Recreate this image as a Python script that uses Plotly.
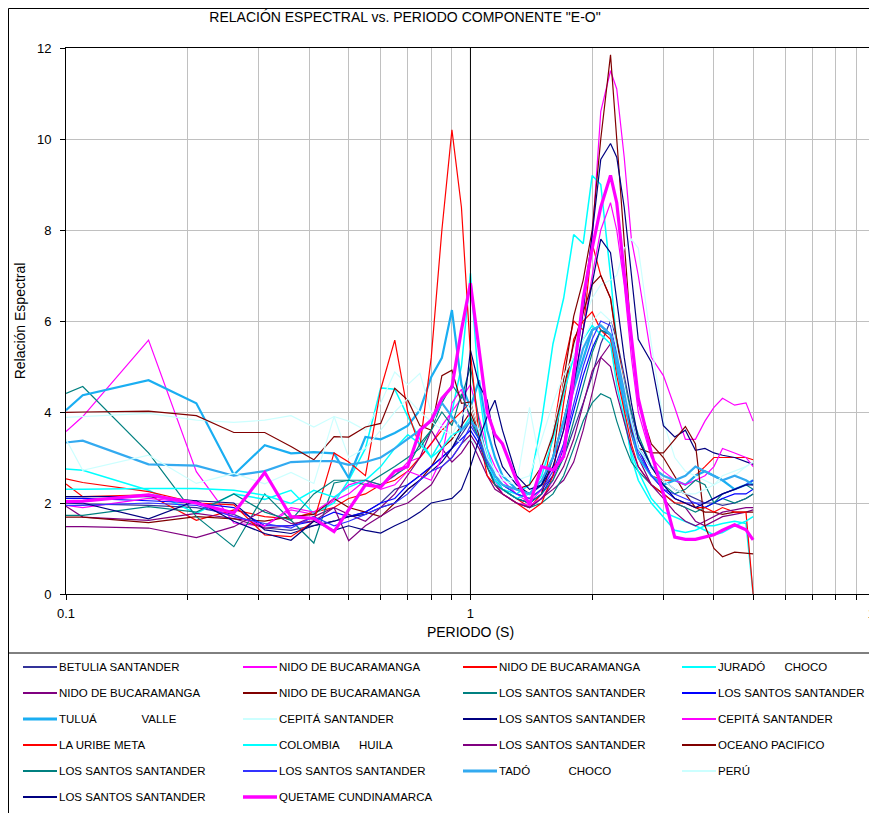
import plotly.graph_objects as go

# ---------------- DATA ----------------
periods = [0.1, 0.11, 0.16, 0.21, 0.26, 0.31, 0.36, 0.41, 0.46, 0.5,
           0.55, 0.6, 0.65, 0.7, 0.75, 0.8, 0.85, 0.9, 0.95, 1.0,
           1.05, 1.1, 1.15, 1.2, 1.3, 1.4, 1.5, 1.6, 1.7, 1.8,
           1.9, 2.0, 2.1, 2.22, 2.3, 2.4, 2.5, 2.6, 2.8, 3.0,
           3.2, 3.4, 3.6, 3.8, 4.0, 4.2, 4.5, 4.8, 5.0]

betulia_santander = [2.0, 1.98, 1.95, 1.9, 1.75, 1.45, 1.4, 1.5, 1.6, 1.7,
                     1.8, 2.0, 2.3, 2.4, 2.6, 2.8, 3.0, 3.2, 3.5, 3.8,
                     3.4, 2.9, 2.6, 2.4, 2.2, 2.1, 2.3, 2.6, 3.0, 3.6,
                     4.2, 4.8, 5.5, 6.0, 5.6, 4.8, 4.0, 3.4, 2.8, 2.5,
                     2.3, 2.2, 2.1, 2.0, 2.0, 1.95, 2.0, 2.1, 2.2]
nido_bucaramanga_1 = [3.57, 3.9, 5.58, 2.69, 1.56, 1.49, 1.85, 1.75, 2.05, 2.2,
                      2.5, 2.4, 2.6, 2.9, 3.0, 3.3, 3.7, 4.0, 4.3, 4.6,
                      3.9, 3.2, 2.8, 2.5, 2.2, 2.0, 2.3, 2.8, 3.6, 5.0,
                      6.5, 7.8, 10.6, 11.5, 11.1, 9.6, 7.8, 7.0, 5.2, 4.8,
                      4.1, 3.4, 3.4, 3.8, 4.1, 4.3, 4.15, 4.2, 3.8]
nido_bucaramanga_2 = [2.42, 2.14, 2.18, 1.62, 1.85, 1.7, 1.65, 1.8, 1.9, 2.1,
                      2.2, 2.4, 2.5, 2.7, 3.0, 3.3, 3.6, 3.8, 4.0, 4.2,
                      3.6, 2.9, 2.5, 2.3, 2.1, 1.9, 2.2, 3.5, 5.0, 6.0,
                      5.8, 7.7, 7.0, 6.5, 5.5, 4.6, 3.8, 3.2, 2.6, 2.5,
                      2.5, 2.4, 2.6, 2.8, 3.0, 3.0, 3.0, 3.0, 2.95]
jurado_choco = [2.75, 2.72, 2.28, 1.77, 2.2, 2.08, 2.28, 1.77, 2.0, 2.5,
                3.2, 4.53, 4.5, 3.9, 3.4, 3.0, 3.4, 4.0, 5.0, 7.05,
                4.5, 3.2, 2.6, 2.3, 2.2, 2.4, 3.8, 5.5, 6.5, 7.9,
                7.7, 9.2, 9.0, 7.0, 5.5, 4.0, 3.0, 2.5, 2.0, 1.7,
                1.4, 1.35, 1.4, 1.5, 1.5, 1.55, 1.6, 1.55, 0.0]
nido_bucaramanga_3 = [1.93, 1.69, 1.62, 1.77, 1.66, 1.45, 1.5, 1.7, 1.9, 1.75,
                      1.6, 1.9, 2.2, 2.6, 3.0, 3.6, 3.2, 2.9, 3.1, 3.4,
                      3.0, 2.6, 2.3, 2.2, 2.0, 1.9, 2.1, 2.3, 2.5, 2.9,
                      3.6, 4.4, 5.2, 5.5, 5.0, 4.2, 3.5, 3.0, 2.4, 2.2,
                      2.0, 1.9, 1.6, 1.5, 1.6, 1.7, 1.75, 1.8, 1.85]
nido_bucaramanga_4 = [1.69, 1.69, 1.57, 1.7, 1.65, 1.6, 1.7, 1.75, 2.1, 1.9,
                      1.8, 1.7, 2.0, 2.3, 2.5, 2.8, 3.2, 3.4, 3.7, 4.0,
                      3.5, 2.8, 2.5, 2.3, 2.1, 2.0, 2.2, 3.0, 4.7, 6.1,
                      6.9, 8.0, 10.0, 11.85, 10.0, 7.8, 5.6, 4.2, 3.3, 3.0,
                      2.6, 2.2, 1.9, 1.8, 1.8, 1.75, 1.8, 1.8, 1.8]
los_santos_1 = [4.41, 4.56, 3.1, 1.7, 1.04, 2.2, 1.62, 1.12, 2.44, 2.5,
                2.4, 2.6, 2.8, 3.0, 3.2, 3.6, 4.2, 4.6, 4.3, 5.0,
                3.8, 2.9, 2.4, 2.2, 2.0, 1.9, 2.0, 2.2, 2.6, 3.2,
                3.8, 4.2, 4.4, 4.3, 3.8, 3.3, 2.9, 2.7, 2.4, 2.2,
                2.0, 1.9, 1.8, 1.9, 2.0, 2.1, 2.0, 2.1, 2.2]
los_santos_2 = [2.1, 2.1, 2.05, 2.0, 1.9, 1.5, 1.5, 1.6, 1.8, 1.7,
                1.8, 2.0, 2.1, 2.4, 2.6, 2.8, 3.0, 3.2, 3.4, 3.6,
                3.3, 2.8, 2.5, 2.3, 2.1, 2.0, 2.2, 2.6, 3.2, 4.0,
                4.8, 5.4, 5.8, 5.7, 5.2, 4.5, 3.8, 3.2, 2.6, 2.3,
                2.1, 2.0, 2.0, 1.9, 2.0, 2.1, 2.2, 2.2, 2.3]
tulua_valle = [4.04, 4.37, 4.70, 4.19, 2.62, 3.27, 3.09, 3.12, 3.09, 2.55,
               3.45, 3.4, 3.54, 3.7, 4.04, 4.77, 5.19, 6.24, 4.6, 4.1,
               4.7, 3.6, 3.0, 2.6, 2.3, 2.2, 2.4, 3.0, 3.8, 4.5,
               5.2, 5.8, 5.9, 5.7, 5.0, 4.2, 3.6, 3.0, 2.6, 2.4,
               2.5, 2.4, 2.6, 2.7, 2.6, 2.5, 2.3, 2.4, 2.5]
cepita_santander_1 = [3.88, 3.9, 3.97, 3.82, 3.77, 3.82, 3.92, 3.67, 3.9, 3.8,
                      3.6, 4.2, 4.88, 4.6, 4.85, 4.0, 3.7, 3.5, 3.3, 3.4,
                      3.2, 2.8, 2.6, 2.5, 2.4, 4.1, 2.7, 3.6, 4.6, 5.4,
                      6.0, 6.5, 6.8, 6.9, 7.0, 7.6, 7.8, 7.6, 5.5, 3.8,
                      3.0, 2.7, 2.6, 2.5, 2.4, 2.5, 2.6, 2.8, 2.9]
los_santos_3 = [2.14, 2.14, 2.14, 2.05, 2.0, 1.41, 1.33, 1.5, 1.6, 1.7,
                1.75, 1.9, 2.0, 2.3, 2.5, 2.7, 2.9, 3.2, 3.6, 5.36,
                4.6, 4.26, 3.3, 2.8, 2.4, 2.2, 2.4, 3.0, 3.8, 4.8,
                6.2, 7.9, 9.55, 9.9, 9.6, 8.5, 7.0, 5.6, 5.1, 3.7,
                3.45, 3.6, 3.16, 3.2, 3.1, 3.05, 3.0, 2.9, 2.85]
cepita_santander_2 = [1.95, 1.9, 2.1, 2.0, 1.7, 1.5, 1.9, 1.8, 2.1, 2.4,
                      2.5, 2.3, 2.4, 2.7, 2.6, 2.5, 3.0, 4.2, 4.5, 3.8,
                      3.5, 3.0, 2.5, 2.2, 2.0, 1.95, 2.1, 2.5, 3.3, 4.5,
                      5.8, 7.0, 8.0, 8.6, 8.0, 6.8, 5.2, 4.0, 3.0, 2.7,
                      2.5, 2.4, 2.5, 2.6, 2.8, 3.2, 3.1, 3.0, 2.8]
la_uribe_meta = [2.53, 2.45, 2.25, 2.0, 1.96, 1.3, 1.26, 1.6, 3.1, 2.9,
                 2.6, 4.5, 5.58, 4.0, 3.24, 5.2, 8.0, 10.2, 8.5, 5.3,
                 3.5, 2.6, 2.4, 2.2, 2.0, 1.8, 2.0, 2.6, 4.2, 5.6,
                 6.0, 6.2, 5.8, 5.6, 4.8, 4.0, 3.3, 2.8, 2.4, 2.2,
                 2.0, 2.0, 1.9, 1.9, 1.8, 1.9, 1.8, 1.8, 0.0]
colombia_huila = [2.3, 2.3, 2.32, 2.32, 2.28, 2.17, 1.99, 2.28, 2.13, 2.35,
                  2.5, 2.8, 3.2, 3.5, 3.3, 3.0, 3.2, 3.5, 3.6, 3.9,
                  3.4, 2.9, 2.5, 2.3, 2.1, 2.2, 2.6, 3.4, 4.4, 5.2,
                  5.6, 5.9, 5.7, 5.5, 4.6, 3.8, 3.1, 2.7, 2.1, 1.8,
                  1.7, 1.6, 1.5, 1.4, 1.3, 1.35, 1.5, 1.6, 1.7]
los_santos_4 = [1.48, 1.48, 1.45, 1.24, 1.48, 1.85, 1.55, 1.6, 1.9, 1.17,
                1.5, 1.7, 1.9, 2.0, 2.2, 2.4, 2.8, 3.0, 3.3, 3.5,
                3.2, 2.8, 2.4, 2.2, 2.0, 1.9, 2.1, 2.4, 2.8, 3.4,
                4.2, 4.9, 5.2, 5.0, 4.4, 3.8, 3.2, 2.8, 2.4, 2.1,
                1.8, 1.6, 1.5, 1.6, 1.7, 1.8, 1.85, 1.9, 1.9]
oceano_pacifico = [3.99, 4.0, 4.02, 3.92, 3.55, 3.55, 3.24, 2.95, 3.46, 3.45,
                   3.67, 3.75, 4.52, 4.26, 3.7, 3.6, 4.8, 4.92, 4.19, 4.22,
                   3.5, 3.0, 2.6, 2.4, 2.3, 2.4, 2.8, 3.5, 4.5, 5.5,
                   6.2, 6.8, 7.0, 6.5, 5.6, 4.5, 3.6, 3.2, 3.1, 3.1,
                   3.4, 3.68, 3.3, 1.5, 1.0, 0.82, 0.92, 0.9, 0.88]
los_santos_5 = [1.73, 1.73, 1.92, 1.8, 2.2, 1.8, 1.62, 2.2, 2.5, 2.5,
                2.5, 2.4, 2.6, 2.8, 3.3, 3.6, 4.0, 3.7, 4.4, 3.9,
                3.4, 2.8, 2.4, 2.3, 2.1, 2.0, 2.2, 2.5, 3.0, 3.8,
                4.6, 5.3, 5.8, 5.7, 5.3, 4.6, 4.0, 3.5, 2.8, 2.4,
                2.2, 2.3, 2.5, 2.4, 2.0, 2.2, 2.3, 2.4, 2.3]
los_santos_6 = [1.95, 1.95, 2.0, 1.95, 1.7, 1.55, 1.45, 1.7, 1.5, 1.6,
                1.75, 1.9, 2.0, 2.2, 2.5, 2.7, 2.8, 3.0, 3.3, 3.7,
                3.4, 2.9, 2.6, 2.4, 2.2, 2.1, 2.3, 2.7, 3.3, 4.2,
                5.0, 5.6, 6.0, 5.9, 5.3, 4.5, 3.7, 3.1, 2.6, 2.3,
                2.2, 2.1, 2.0, 2.0, 2.1, 2.2, 2.3, 2.4, 2.5]
tado_choco = [3.33, 3.37, 2.85, 2.82, 2.6, 2.7, 2.9, 2.92, 2.92, 2.84,
              2.9, 3.0, 3.2, 3.4, 3.6, 3.8, 4.2, 3.9, 3.6, 3.8,
              3.6, 3.0, 2.6, 2.4, 2.3, 2.2, 2.5, 3.0, 3.8, 4.6,
              5.4, 5.8, 5.9, 5.7, 5.2, 4.4, 3.8, 3.2, 2.8, 2.6,
              2.5, 2.6, 2.8, 2.7, 2.6, 2.5, 2.6, 2.5, 2.4]
peru = [3.4, 2.72, 3.05, 2.43, 2.65, 2.42, 2.67, 2.43, 3.9, 3.0,
        3.2, 3.6, 4.0, 4.3, 4.0, 3.8, 3.6, 3.5, 3.9, 4.2,
        3.6, 3.0, 2.7, 2.6, 2.5, 2.6, 3.4, 4.2, 4.8, 5.2,
        5.6, 6.0, 6.2, 6.0, 5.4, 4.6, 3.8, 3.2, 2.8, 2.5,
        2.3, 2.2, 2.2, 2.3, 2.4, 2.6, 2.7, 2.8, 2.9]
los_santos_7 = [2.0, 2.0, 1.65, 2.05, 1.6, 1.33, 1.18, 1.6, 1.4, 1.5,
                1.4, 1.34, 1.5, 1.63, 1.8, 2.0, 2.05, 2.1, 2.3, 2.8,
                3.4, 3.9, 4.26, 3.6, 2.6, 2.3, 2.4, 2.8, 3.6, 4.6,
                5.8, 6.8, 7.8, 7.5, 6.5, 5.2, 4.2, 3.4, 2.8, 2.4,
                2.1, 2.0, 1.9, 2.0, 2.1, 2.2, 2.3, 2.4, 2.4]
quetame_cundinamarca = [2.03, 2.04, 2.18, 2.0, 1.78, 2.67, 1.7, 1.66, 1.37, 1.85,
                        2.4, 2.35, 2.7, 2.8, 3.6, 3.82, 4.3, 4.55, 5.8, 6.83,
                        5.36, 4.0, 3.5, 3.3, 2.5, 1.96, 2.8, 2.72, 3.02, 4.8,
                        6.5, 7.6, 8.5, 9.2, 8.6, 7.05, 5.6, 4.3, 3.1, 2.2,
                        1.25, 1.2, 1.2, 1.25, 1.3, 1.4, 1.52, 1.41, 1.19]

series_values = [betulia_santander, nido_bucaramanga_1, nido_bucaramanga_2, jurado_choco,
                 nido_bucaramanga_3, nido_bucaramanga_4, los_santos_1, los_santos_2,
                 tulua_valle, cepita_santander_1, los_santos_3, cepita_santander_2,
                 la_uribe_meta, colombia_huila, los_santos_4, oceano_pacifico,
                 los_santos_5, los_santos_6, tado_choco, peru,
                 los_santos_7, quetame_cundinamarca]

series_names = ["BETULIA SANTANDER", "NIDO DE BUCARAMANGA", "NIDO DE BUCARAMANGA",
                "JURADÓ      CHOCO",
                "NIDO DE BUCARAMANGA", "NIDO DE BUCARAMANGA", "LOS SANTOS SANTANDER",
                "LOS SANTOS SANTANDER",
                "TULUÁ              VALLE", "CEPITÁ SANTANDER", "LOS SANTOS SANTANDER",
                "CEPITÁ SANTANDER",
                "LA URIBE META", "COLOMBIA      HUILA", "LOS SANTOS SANTANDER",
                "OCEANO PACIFICO",
                "LOS SANTOS SANTANDER", "LOS SANTOS SANTANDER", "TADÓ            CHOCO",
                "PERÚ",
                "LOS SANTOS SANTANDER", "QUETAME CUNDINAMARCA"]

x_tick_vals = [0.1, 0.2, 0.3, 0.4, 0.5, 0.6, 0.7, 0.8, 0.9, 1, 2, 3, 4, 5, 6, 7, 8, 9, 10]
x_tick_text = ["0.1", "", "", "", "", "", "", "", "", "1", "", "", "", "", "", "", "", "", "10"]
y_tick_vals = [0, 2, 4, 6, 8, 10, 12]

# ---------------- STYLE ----------------
series_colors = ["#333399", "#FF00FF", "#FF0000", "#00FFFF",
                 "#800080", "#800000", "#008080", "#0000FF",
                 "#1AAEF2", "#CCFFFF", "#000080", "#FF00FF",
                 "#FF0000", "#00FFFF", "#800080", "#800000",
                 "#008080", "#3333FF", "#33AAF0", "#CCFFFF",
                 "#000080", "#FF00FF"]
series_widths = [1.2, 1.2, 1.2, 1.5,
                 1.2, 1.2, 1.2, 1.2,
                 2.2, 1.2, 1.2, 1.2,
                 1.2, 1.5, 1.2, 1.2,
                 1.2, 1.2, 2.2, 1.2,
                 1.2, 3.2]

# the page body adds an 8px offset; layout is expressed in screen pixels
OFF = 8
W, H = 877 - OFF, 813 - OFF
PLOT_L, PLOT_R, PLOT_T, PLOT_B = 66, 875, 48, 594      # screen pixels
ML, MT = PLOT_L - OFF, PLOT_T - OFF
MR = W - (PLOT_R - OFF)
MB = H - (PLOT_B - OFF)
PW = PLOT_R - PLOT_L
PH = PLOT_B - PLOT_T
FONT = "Liberation Sans, Arial, sans-serif"


def xp(px):
    return (px - PLOT_L) / PW


def yp(py):
    return (PLOT_B - py) / PH


fig = go.Figure()
for vals, name, col, w in zip(series_values, series_names, series_colors, series_widths):
    fig.add_trace(go.Scatter(x=periods, y=vals, mode="lines", name=name,
                             line=dict(color=col, width=w), showlegend=False))

fig.update_layout(
    width=W, height=H,
    margin=dict(l=ML, r=MR, t=MT, b=MB, autoexpand=False),
    paper_bgcolor="white", plot_bgcolor="white",
    font=dict(family=FONT, color="black"),
    title=dict(text='RELACIÓN ESPECTRAL vs. PERIODO COMPONENTE "E-O"',
               x=(405 - OFF) / W, xref="container", xanchor="center",
               y=1 - (17 - OFF) / H, yref="container", yanchor="middle",
               font=dict(size=14, family=FONT, color="black")),
    xaxis=dict(type="log", range=[-1, 1.0003], tickvals=x_tick_vals, ticktext=x_tick_text,
               showgrid=True, gridcolor="#C0C0C0", gridwidth=1,
               ticks="outside", ticklen=5, tickcolor="black",
               showline=True, linecolor="black", linewidth=1, mirror=True,
               tickfont=dict(size=13, family=FONT), ticklabelstandoff=2,
               ticklabeloverflow="allow", automargin=False,
               title=dict(text="PERIODO (S)", font=dict(size=14, family=FONT), standoff=7),
               zeroline=False),
    yaxis=dict(range=[0, 12], tickvals=y_tick_vals,
               showgrid=True, gridcolor="#C0C0C0", gridwidth=1,
               ticks="outside", ticklen=5, tickcolor="black",
               showline=True, linecolor="black", linewidth=1, mirror=True,
               tickfont=dict(size=13, family=FONT), ticklabelstandoff=6,
               automargin=False,
               title=dict(text="Relación Espectral", font=dict(size=14, family=FONT), standoff=8),
               zeroline=False),
)

# vertical reference line at T = 1 s
fig.add_shape(type="line", xref="x", yref="paper", x0=1, x1=1, y0=0, y1=1,
              line=dict(color="black", width=1))

# outer chart border and legend frame
fig.add_shape(type="rect", xref="paper", yref="paper",
              x0=xp(8.5), x1=xp(905), y0=yp(8.5), y1=yp(830),
              line=dict(color="black", width=1), layer="above")
fig.add_shape(type="line", xref="paper", yref="paper",
              x0=xp(8), x1=xp(905), y0=yp(653), y1=yp(653),
              line=dict(color="black", width=1))

# legend drawn as a 4-column block
col_x = [57, 277, 497, 716]
row_y0, row_dy = 667, 26
for i, (name, col, w) in enumerate(zip(series_names, series_colors, series_widths)):
    r, c = divmod(i, 4)
    tx = col_x[c]
    ty = row_y0 + r * row_dy
    fig.add_shape(type="line", xref="paper", yref="paper",
                  x0=xp(tx - 34), x1=xp(tx), y0=yp(ty), y1=yp(ty),
                  line=dict(color=col, width=min(w + 0.6, 3.4)))
    fig.add_annotation(xref="paper", yref="paper", x=xp(tx), y=yp(ty),
                       text=name.replace("  ", "\u00a0\u00a0"),
                       showarrow=False, xanchor="left", yanchor="middle",
                       font=dict(size=11.5, family=FONT, color="black"))

fig.write_html("out.html")
